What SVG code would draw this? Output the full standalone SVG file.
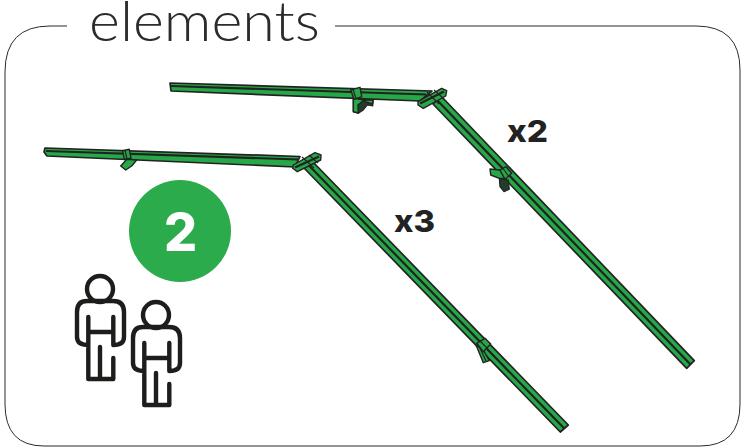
<svg xmlns="http://www.w3.org/2000/svg" width="744" height="447" viewBox="0 0 744 447">
<style>
.frame{fill:none;stroke:#2b2b2b;stroke-width:1}
.beam{fill:#26a848;stroke:#222;stroke-width:1.7;stroke-linejoin:round}
.mid{fill:none;stroke:#222;stroke-width:2.2}
.thin{fill:none;stroke:#222;stroke-width:1.2}
.fit{fill:#26a848;stroke:#222;stroke-width:1.4;stroke-linejoin:round}
.dk{fill:#1f3d2a;stroke:#222;stroke-width:1.2;stroke-linejoin:round}
.lab{font-family:"Inter","Liberation Sans",sans-serif;font-weight:800;fill:#222}
.p{fill:none;stroke:#1d1d1b;stroke-width:4.4;stroke-linecap:round;stroke-linejoin:round}
</style>
<defs>
<g id="person">
<circle class="p" cx="100" cy="289" r="13"/>
<path class="p" d="M87 301H113Q124 301 124 312V337Q124 345 113.300 345M113.300 345V317M113.300 332H88.300M88.300 317V379H113.300V358M100 347V379M88.300 345Q77 345 77 337V312Q77 301 87 301"/>
</g>
</defs>
<path id="frame" class="frame" d="M67 26H50Q5 26 5 72V404Q5 446 44 446H700Q740 446 740 404V70Q740 26 696 26H335"/>
<text id="title" x="89" y="41" font-family="Lato,'Open Sans',sans-serif" font-weight="300" font-size="55" fill="#2b2b2b" textLength="231" lengthAdjust="spacingAndGlyphs">elements</text>
<g id="frame-a">
<polygon class="beam" points="170,83 432,91 420,101 171,91"/>
<path class="mid" d="M171 86 426 94.500"/>
<polygon class="dk" points="353.300,98 373.300,100 372.700,106 367.300,105 363.300,110 358.300,113.300 353.300,111.700"/>
<polygon class="fit" points="353.300,98 364,100 358,105 358.300,113 353.300,111.700"/>
<path class="fit" d="M364 100 373 100 372.500 104 366 102Z"/>
<polygon class="fit" points="350.700,90 360,87.300 361.700,96.700 354,99.300"/>
<path class="thin" d="M353 89.500 356 98.500"/>
<polygon class="beam" points="441,96 694.300,360.700 686.700,368.300 433,104"/>
<path class="mid" d="M437 100 690.500 364.500"/>
<polygon class="fit" points="418,101.700 441.700,88.300 446.700,90.700 445.700,96 423.300,108.300 418,105"/>
<path class="mid" d="M420 103.500 444 91.500"/>
<path class="thin" d="M427 92 439 104M434 90 444 99"/>
<polygon class="dk" points="499.300,178.300 508.300,180 509.300,189.300 504,191.700 500,186.700"/>
<polygon class="fit" points="490,169 500,170 505,179 499.300,178.300 490.700,175"/>
<polygon class="fit" points="500,170 506,166.700 511.700,173.300 505,179.300"/>
<path class="thin" d="M503 168.500 508.500 176"/>
</g>
<g id="frame-b">
<polygon class="beam" points="45,148 300,156.500 295,167 47,156 44,152"/>
<path class="mid" d="M46 151 298 159.500"/>
<polygon class="fit" points="120.700,166 126.700,159.300 136.700,160 131.700,166 125.700,170"/>
<polygon class="fit" points="122.700,150.700 129.300,149.300 131,158.300 124.300,159.300"/>
<path class="thin" d="M125 150 127 159"/>
<polygon class="beam" points="312,161 568.300,425 560.300,432 304,168"/>
<path class="mid" d="M308 164.500 564.300 428.500"/>
<polygon class="fit" points="293.300,165 315,152.700 321,155 320.700,160 297.300,171.700 292.700,168.300"/>
<path class="mid" d="M295 167.500 319 156.500"/>
<path class="thin" d="M302 157 314 168M309 155 318 163"/>
<polygon class="fit" points="476,345 483.300,362.700 489.300,360.700 483.300,350"/>
<path class="thin" d="M479 346 486 361"/>
<polygon class="fit" points="476.700,343.300 485,338.300 490.700,344 483.300,351.700"/>
<path class="thin" d="M480 341 487 348"/>
</g>
<g id="badge">
<circle cx="180" cy="231" r="51" fill="#2bab4b"/>
<text x="180.500" y="251" text-anchor="middle" font-family="Inter,'Liberation Sans',sans-serif" font-weight="800" font-size="52" fill="#fff">2</text>
</g>
<text id="x2" class="lab" x="507" y="142" font-size="30" textLength="41" lengthAdjust="spacingAndGlyphs">x2</text>
<text id="x3" class="lab" x="394" y="232" font-size="30" textLength="41" lengthAdjust="spacingAndGlyphs">x3</text>
<g id="person-1"><use href="#person"/></g>
<g id="person-2"><use href="#person" transform="translate(56 26)"/></g>
</svg>
